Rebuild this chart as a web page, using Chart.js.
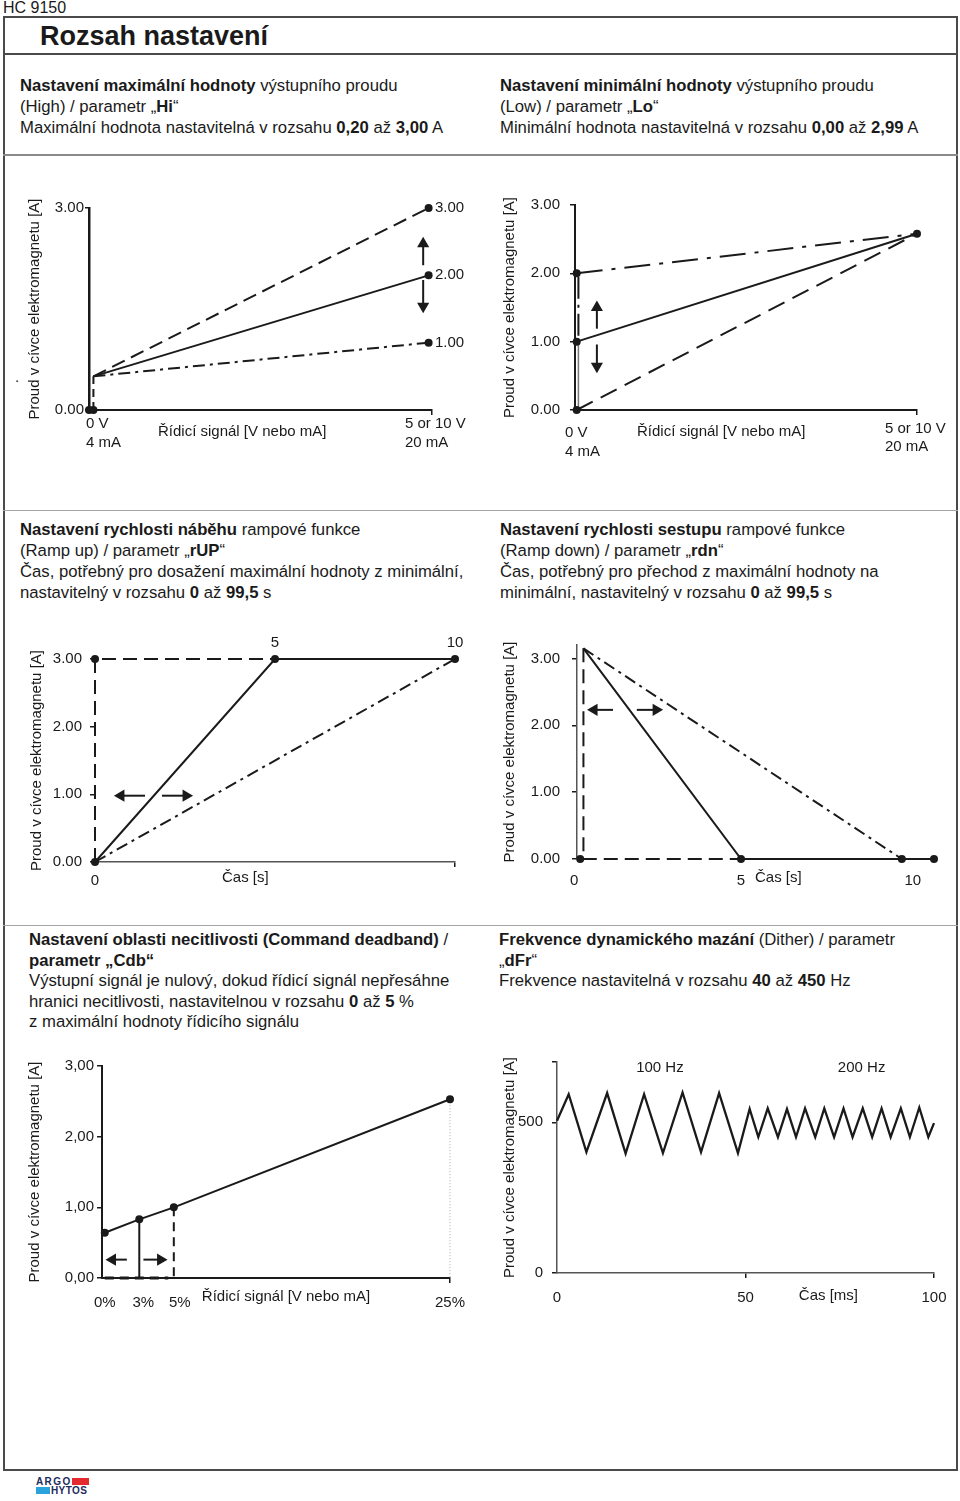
<!DOCTYPE html>
<html>
<head>
<meta charset="utf-8">
<script src="https://cdn.jsdelivr.net/npm/chart.js"></script>
<style>
  body { margin:0; background:#fff; }
  .page { position:relative; width:960px; height:1501px; background:#fff; font-family:'Liberation Sans', Arial, Helvetica, sans-serif; color:#1a1a1a; overflow:hidden; }
  .abs { position:absolute; white-space:nowrap; }
  .txt { font-size:16.7px; line-height:21px; }
  .txt3 { font-size:16.7px; line-height:20.5px; }
  canvas { position:absolute; }
  .rule { position:absolute; left:3px; width:955px; }
</style>
</head>
<body>
<div class="page">
  <div class="abs" style="left:3px;top:-1px;font-size:16px;line-height:17px;">HC 9150</div>
  <div class="abs" style="left:3px;top:16px;width:951px;height:1451px;border:2px solid #4a4a4a;"></div>
  <div class="rule" style="top:53px;height:2px;background:#4a4a4a;"></div>
  <div class="abs" style="left:40px;top:21px;font-size:27px;line-height:30px;font-weight:bold;">Rozsah nastavení</div>

  <div class="abs txt" style="left:20px;top:75px;"><b>Nastavení maximální hodnoty</b> výstupního proudu<br>(High) / parametr „<b>Hi</b>“<br>Maximální hodnota nastavitelná v rozsahu <b>0,20</b> až <b>3,00</b> A</div>
  <div class="abs txt" style="left:500px;top:75px;"><b>Nastavení minimální hodnoty</b> výstupního proudu<br>(Low) / parametr „<b>Lo</b>“<br>Minimální hodnota nastavitelná v rozsahu <b>0,00</b> až <b>2,99</b> A</div>
  <div class="rule" style="top:154px;height:2px;background:#8a8a8a;"></div>

  <div class="abs" style="left:15px;top:368px;font-size:15px;">.</div>
  <canvas id="c1" width="480" height="300" style="left:0;top:170px;"></canvas>
  <canvas id="c2" width="480" height="300" style="left:480px;top:170px;"></canvas>

  <div class="rule" style="top:510px;height:1px;background:#a5a5a5;"></div>
  <div class="abs txt" style="left:20px;top:519px;"><b>Nastavení rychlosti náběhu</b> rampové funkce<br>(Ramp up) / parametr „<b>rUP</b>“<br>Čas, potřebný pro dosažení maximální hodnoty z minimální,<br>nastavitelný v rozsahu <b>0</b> až <b>99,5</b> s</div>
  <div class="abs txt" style="left:500px;top:519px;"><b>Nastavení rychlosti sestupu</b> rampové funkce<br>(Ramp down) / parametr „<b>rdn</b>“<br>Čas, potřebný pro přechod z maximální hodnoty na<br>minimální, nastavitelný v rozsahu <b>0</b> až <b>99,5</b> s</div>

  <canvas id="c3" width="480" height="270" style="left:0;top:630px;"></canvas>
  <canvas id="c4" width="480" height="270" style="left:480px;top:630px;"></canvas>

  <div class="rule" style="top:925px;height:1px;background:#a5a5a5;"></div>
  <div class="abs txt3" style="left:29px;top:930px;"><b>Nastavení oblasti necitlivosti (Command deadband)</b> /<br><b>parametr „Cdb“</b><br>Výstupní signál je nulový, dokud řídicí signál nepřesáhne<br>hranici necitlivosti, nastavitelnou v rozsahu <b>0</b> až <b>5</b> %<br>z maximální hodnoty řídicího signálu</div>
  <div class="abs txt3" style="left:499px;top:930px;"><b>Frekvence dynamického mazání</b> (Dither) / parametr<br>„<b>dFr</b>“<br>Frekvence nastavitelná v rozsahu <b>40</b> až <b>450</b> Hz</div>

  <canvas id="c5" width="480" height="270" style="left:0;top:1050px;"></canvas>
  <canvas id="c6" width="480" height="270" style="left:480px;top:1050px;"></canvas>

  <div class="abs" style="left:36px;top:1477px;font-size:10px;line-height:9px;font-weight:bold;letter-spacing:1.4px;color:#1d2b5e;">ARGO</div>
  <div class="abs" style="left:72px;top:1478px;width:17px;height:7px;background:#e42a2f;"></div>
  <div class="abs" style="left:36px;top:1487px;width:14px;height:7px;background:#2aa3dc;"></div>
  <div class="abs" style="left:51px;top:1486px;font-size:10px;line-height:9px;font-weight:bold;letter-spacing:0.4px;color:#1d2b5e;">HYTOS</div>
</div>

<script>
const FONT = "'Liberation Sans', Arial, Helvetica, sans-serif";
const INK = '#1a1a1a';
Chart.defaults.font.family = FONT;
Chart.defaults.font.size = 15;
Chart.defaults.color = INK;

const yTitle = 'Proud v cívce elektromagnetu [A]';
const signalTitle = 'Řídicí signál [V nebo mA]';
const timeTitle = 'Čas [s]';

// --- 1: Hi (maximum current) ---
const hiTicks = [0, 3];
const hiTickLabels = ['0.00', '3.00'];
const hiLineX = [0.13, 10];
const hiMaxY = [0.5, 3.0];
const hiMidY = [0.5, 2.0];
const hiMinY = [0.5, 1.0];
const hiFootX = [0.13, 0.13];
const hiFootY = [0, 0.5];
const hiDotX = [0, 0.13, 10, 10, 10];
const hiDotY = [0, 0, 3, 2, 1];
const hiArrowX = [9.84, 9.84];
const hiArrowUpY = [2.15, 2.47];
const hiArrowDownY = [1.93, 1.54];
const hiEndLabels = ['3.00', '2.00', '1.00'];

// --- 2: Lo (minimum current) ---
const loTicks = [0, 1, 2, 3];
const loTickLabels = ['0.00', '1.00', '2.00', '3.00'];
const loLineX = [0.05, 10];
const loTopY = [2.0, 2.58];
const loMidY = [1.0, 2.58];
const loLowY = [0, 2.58];
const loStemX = [0.1, 0.1];
const loStemUpperY = [1.95, 1.05];
const loStemLowerY = [1.0, 0];
const loDotX = [0.05, 0.05, 0.05, 10];
const loDotY = [2, 1, 0, 2.58];
const loArrowX = [0.64, 0.64];
const loArrowUpY = [1.19, 1.5];
const loArrowDownY = [0.96, 0.64];

// --- 3: rUP (ramp up) ---
const upTicks = [0, 1, 2, 3];
const upTickLabels = ['0.00', '1.00', '2.00', '3.00'];
const upDashX = [0, 0, 5];
const upDashY = [0, 3, 3];
const upSolidX = [0, 5, 10];
const upSolidY = [0, 3, 3];
const upSlowX = [0, 10];
const upSlowY = [0, 3];
const upDotX = [0, 0, 5, 10];
const upDotY = [0, 3, 3, 3];
const upArrowY = [0.98, 0.98];
const upArrowLeftX = [1.39, 0.72];
const upArrowRightX = [1.86, 2.53];
const upTopTicks = [5, 10];
const upTopLabels = ['5', '10'];

// --- 4: rdn (ramp down) ---
const dnTicks = [0, 1, 2, 3];
const dnTickLabels = ['0.00', '1.00', '2.00', '3.00'];
const dnDashX = [0.1, 0.1, 5.5];
const dnDashY = [3.15, 0, 0];
const dnSolidX = [0.1, 5, 11];
const dnSolidY = [3.15, 0, 0];
const dnSlowX = [0.1, 10];
const dnSlowY = [3.15, 0];
const dnDotX = [0, 5, 10, 11];
const dnDotY = [0, 0, 0, 0];
const dnArrowY = [2.23, 2.23];
const dnArrowLeftX = [1.02, 0.43];
const dnArrowRightX = [1.76, 2.36];
const dnXLabels = ['0', '5', '10'];

// --- 5: Cdb (deadband) ---
const cdbTicks = [0, 1, 2, 3];
const cdbTickLabels = ['0,00', '1,00', '2,00', '3,00'];
const cdbX = [0, 2.5, 5, 25];
const cdbY = [0.64, 0.83, 1.0, 2.53];
const cdbXLabels = ['0%', '3%', '5%', '25%'];
const cdbArrowY = [0.26, 0.26];
const cdbArrowLeftX = [1.6, 0.56];
const cdbArrowRightX = [2.8, 4.04];

// --- 6: dFr (dither) ---
const dfrTicks = [0, 500, 700];
const dfrTickLabels = ['0', '500', ''];
const dfrXTicks = [0, 50, 100];
const dfrXLabels = ['0', '50', '100'];
const dfrT = [0, 3.1, 7.8, 13.3, 18.2, 23.1, 28.1, 33.3, 38.2, 43.0, 48.0, 51.1, 53.4, 55.9, 58.6, 61.0, 63.4, 65.8, 68.5, 70.9, 73.5, 76.0, 78.4, 81.1, 83.6, 86.1, 88.5, 91.2, 93.6, 96.1, 98.5, 100];
const dfrI = [505, 593, 401, 597, 396, 593, 398, 599, 401, 597, 398, 544, 451, 546, 451, 544, 451, 546, 451, 546, 451, 546, 451, 546, 451, 546, 451, 546, 451, 549, 451, 497];

const DASH = [14, 7];
const DASHDOT = [12, 5, 3, 5];

const pts = (xs, ys) => xs.map((x, i) => ({ x: x, y: ys[i] }));
function line(data, dash, extra){
  return Object.assign({ data: data, showLine: true, borderColor: INK, borderWidth: 2, borderDash: dash || [], pointRadius: 0, clip: false }, extra || {});
}
function dots(data){
  return { data: data, showLine: false, pointRadius: 4, pointStyle: 'circle', pointBackgroundColor: INK, pointBorderWidth: 0, clip: false };
}
function arrow(data, rot){
  return { data: data, showLine: true, borderColor: INK, borderWidth: 2, pointStyle: 'triangle', pointRadius: [0, 7], pointRotation: [0, rot], pointBackgroundColor: INK, pointBorderColor: INK, pointBorderWidth: 0, clip: false };
}

// draws the loose labels of the diagrams at positions taken from the scales
const notesPlugin = {
  id: 'notes',
  afterDraw(chart, args, opts){
    const ctx = chart.ctx, sx = chart.scales.x, sy = chart.scales.y;
    ctx.save();
    ctx.fillStyle = INK;
    ctx.font = '15px ' + FONT;
    ctx.textBaseline = 'middle';
    (opts.items || []).forEach(n => {
      ctx.textAlign = n.align || 'center';
      ctx.fillText(n.text, sx.getPixelForValue(n.x) + (n.dx || 0), sy.getPixelForValue(n.y) + (n.dy || 0));
    });
    ctx.restore();
  }
};

function makeChart(id, g){
  const c = document.getElementById(id);
  const box = { left: parseFloat(c.style.left), top: parseFloat(c.style.top), w: c.width, h: c.height };
  const padLeft = g.titleX - box.left - 9;
  const yW = g.area.l - box.left - padLeft;
  const xH = box.top + box.h - g.area.b;
  return new Chart(c, {
    type: 'scatter',
    data: { datasets: g.datasets },
    options: {
      responsive: false, animation: false, events: [],
      layout: { padding: { left: padLeft, top: g.area.t - box.top, right: box.left + box.w - g.area.r, bottom: 0 } },
      plugins: { legend: { display: false }, tooltip: { enabled: false }, notes: { items: g.notes } },
      scales: {
        x: {
          type: 'linear', min: g.x[0], max: g.x[1],
          afterBuildTicks: s => { s.ticks = g.xMarks.map(v => ({ value: v })); },
          afterFit: s => { s.height = xH; s.paddingLeft = 0; s.paddingRight = 0; },
          ticks: { display: false },
          grid: { drawOnChartArea: false, drawTicks: true, tickLength: 5, color: INK, lineWidth: 1.5 },
          border: g.xBorder
        },
        y: {
          type: 'linear', min: g.y[0], max: g.y[1],
          afterBuildTicks: s => { s.ticks = g.yTicks.map(v => ({ value: v })); },
          afterFit: s => { s.width = yW; s.paddingTop = 0; s.paddingBottom = 0; },
          ticks: { padding: g.yPad, callback: (v, i) => g.yLabels[i] },
          grid: { drawOnChartArea: false, drawTicks: true, tickLength: g.yTick || 5, color: INK, lineWidth: 1.5 },
          border: g.yBorder,
          title: { display: true, text: yTitle, padding: 0, font: { size: 15 } }
        }
      }
    },
    plugins: [notesPlugin]
  });
}

const solidAxis = { display: true, color: INK, width: 2 };
const thinAxis = { display: true, color: '#555', width: 1.5 };
const noAxis = { display: false };

// 1 Hi
makeChart('c1', {
  titleX: 35, area: { l: 89, t: 208, r: 432, b: 410 }, x: [0, 10.1], y: [0, 3],
  xMarks: [10.1], yTicks: hiTicks, yLabels: hiTickLabels, yPad: 1, yTick: 4,
  xBorder: solidAxis, yBorder: { display: true, color: INK, width: 2.5 },
  datasets: [
    dots(pts(hiDotX, hiDotY)),
    line(pts(hiLineX, hiMaxY), DASH),
    line(pts(hiLineX, hiMidY)),
    line(pts(hiLineX, hiMinY), DASHDOT),
    line(pts(hiFootX, hiFootY), [8, 5]),
    arrow(pts(hiArrowX, hiArrowUpY), 0),
    arrow(pts(hiArrowX, hiArrowDownY), 180)
  ],
  notes: [
    { x: 10.1, y: 3, dx: 3, text: hiEndLabels[0], align: 'left' },
    { x: 10.1, y: 2, dx: 3, text: hiEndLabels[1], align: 'left' },
    { x: 10.1, y: 1, dx: 3, text: hiEndLabels[2], align: 'left' },
    { x: 0, y: 0, dx: -3, dy: 14, text: '0 V', align: 'left' },
    { x: 0, y: 0, dx: -3, dy: 33, text: '4 mA', align: 'left' },
    { x: 0, y: 0, dx: 69, dy: 22, text: signalTitle, align: 'left' },
    { x: 10.1, y: 0, dx: -27, dy: 14, text: '5 or 10 V', align: 'left' },
    { x: 10.1, y: 0, dx: -27, dy: 33, text: '20 mA', align: 'left' }
  ]
});

// 2 Lo
makeChart('c2', {
  titleX: 510, area: { l: 575, t: 205, r: 917, b: 410 }, x: [0, 10], y: [0, 3],
  xMarks: [10], yTicks: loTicks, yLabels: loTickLabels, yPad: 10,
  xBorder: solidAxis, yBorder: solidAxis,
  datasets: [
    dots(pts(loDotX, loDotY)),
    line(pts(loLineX, loTopY), [26, 9, 4, 9]),
    line(pts(loLineX, loMidY)),
    line(pts(loLineX, loLowY), [18, 9]),
    line(pts(loStemX, loStemUpperY), [22, 6, 3, 6]),
    line(pts(loStemX, loStemLowerY), [], { borderColor: '#777', borderWidth: 1.5 }),
    arrow(pts(loArrowX, loArrowUpY), 0),
    arrow(pts(loArrowX, loArrowDownY), 180)
  ],
  notes: [
    { x: 0, y: 0, dx: -10, dy: 23, text: '0 V', align: 'left' },
    { x: 0, y: 0, dx: -10, dy: 42, text: '4 mA', align: 'left' },
    { x: 0, y: 0, dx: 62, dy: 22, text: signalTitle, align: 'left' },
    { x: 10, y: 0, dx: -32, dy: 19, text: '5 or 10 V', align: 'left' },
    { x: 10, y: 0, dx: -32, dy: 37, text: '20 mA', align: 'left' }
  ]
});

// 3 rUP
makeChart('c3', {
  titleX: 37, area: { l: 95, t: 659, r: 455, b: 862 }, x: [0, 10], y: [0, 3],
  xMarks: [10], yTicks: upTicks, yLabels: upTickLabels, yPad: 8,
  xBorder: thinAxis, yBorder: noAxis,
  datasets: [
    dots(pts(upDotX, upDotY)),
    line(pts(upDashX, upDashY), DASH),
    line(pts(upSolidX, upSolidY)),
    line(pts(upSlowX, upSlowY), DASHDOT),
    arrow(pts(upArrowLeftX, upArrowY), 270),
    arrow(pts(upArrowRightX, upArrowY), 90)
  ],
  notes: [
    { x: upTopTicks[0], y: 3, dy: -16, text: upTopLabels[0] },
    { x: upTopTicks[1], y: 3, dy: -16, text: upTopLabels[1] },
    { x: 0, y: 0, dy: 19, text: '0' },
    { x: 0, y: 0, dx: 127, dy: 16, text: timeTitle, align: 'left' }
  ]
});

// 4 rdn
makeChart('c4', {
  titleX: 510, area: { l: 577, t: 645, r: 934, b: 859 }, x: [-0.1, 11], y: [0, 3.2],
  xMarks: [], yTicks: dnTicks, yLabels: dnTickLabels, yPad: 12,
  xBorder: noAxis, yBorder: thinAxis,
  datasets: [
    dots(pts(dnDotX, dnDotY)),
    line(pts(dnDashX, dnDashY), DASH),
    line(pts(dnSolidX, dnSolidY)),
    line(pts(dnSlowX, dnSlowY), DASHDOT),
    arrow(pts(dnArrowLeftX, dnArrowY), 270),
    arrow(pts(dnArrowRightX, dnArrowY), 90)
  ],
  notes: [
    { x: 0, y: 0, dx: -6, dy: 22, text: dnXLabels[0] },
    { x: 5, y: 0, dy: 22, text: dnXLabels[1] },
    { x: 10, y: 0, dx: 11, dy: 22, text: dnXLabels[2] },
    { x: 5, y: 0, dx: 14, dy: 19, text: timeTitle, align: 'left' }
  ]
});

// 5 Cdb
makeChart('c5', {
  titleX: 35, area: { l: 102, t: 1066, r: 450, b: 1278 }, x: [-0.2, 25], y: [0, 3],
  xMarks: [25], yTicks: cdbTicks, yLabels: cdbTickLabels, yPad: 3,
  xBorder: solidAxis, yBorder: solidAxis,
  datasets: [
    dots(pts(cdbX, cdbY)),
    line(pts(cdbX, cdbY)),
    line(pts([cdbX[1], cdbX[1]], [cdbY[1], 0])),
    line(pts([cdbX[2], cdbX[2]], [cdbY[2], 0]), [9, 6]),
    line(pts([cdbX[0], 4.6], [0, 0]), [9, 6], { borderWidth: 3 }),
    line(pts([cdbX[3], cdbX[3]], [cdbY[3], 0]), [1, 2], { borderColor: '#aaa', borderWidth: 1 }),
    arrow(pts(cdbArrowLeftX, cdbArrowY), 270),
    arrow(pts(cdbArrowRightX, cdbArrowY), 90)
  ],
  notes: [
    { x: 0, y: 0, dy: 25, text: cdbXLabels[0] },
    { x: 2.5, y: 0, dx: 4, dy: 25, text: cdbXLabels[1] },
    { x: 5, y: 0, dx: 6, dy: 25, text: cdbXLabels[2] },
    { x: 25, y: 0, dy: 25, text: cdbXLabels[3] },
    { x: 5, y: 0, dx: 28, dy: 19, text: signalTitle, align: 'left' }
  ]
});

// 6 dFr
makeChart('c6', {
  titleX: 510, area: { l: 557, t: 1062, r: 934, b: 1273 }, x: [0, 100], y: [0, 700],
  xMarks: [50, 100], yTicks: dfrTicks, yLabels: dfrTickLabels, yPad: 9,
  xBorder: thinAxis, yBorder: thinAxis,
  datasets: [
    line(pts(dfrT, dfrI), [], { borderWidth: 2.3 })
  ],
  notes: [
    { x: dfrXTicks[0], y: 0, dy: 25, text: dfrXLabels[0] },
    { x: dfrXTicks[1], y: 0, dy: 25, text: dfrXLabels[1] },
    { x: dfrXTicks[2], y: 0, dy: 25, text: dfrXLabels[2] },
    { x: 72, y: 0, dy: 23, text: 'Čas [ms]' },
    { x: 27.3, y: 700, dy: 6, text: '100 Hz' },
    { x: 80.8, y: 700, dy: 6, text: '200 Hz' }
  ]
});
</script>
</body>
</html>
